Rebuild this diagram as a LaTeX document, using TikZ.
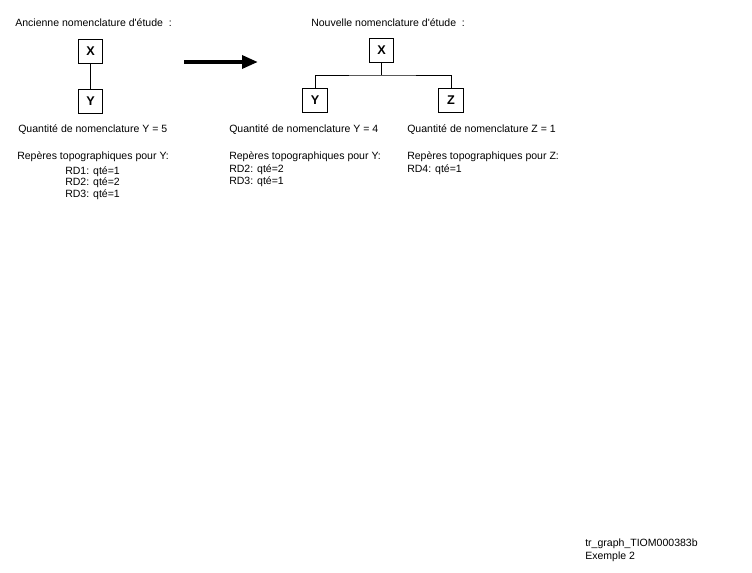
\documentclass[tikz,border=0pt]{standalone}
\usepackage{fontspec}
\setmainfont{Liberation Sans}
\usetikzlibrary{arrows.meta,positioning}

\begin{document}
\begin{tikzpicture}[
  x=0.75pt, y=-0.75pt,
  font=\fontsize{7.9}{9.5}\selectfont,
  box/.style={draw, line width=0.75pt, minimum width=18.5pt, minimum height=18pt, inner sep=0pt, font=\fontsize{9.5}{11}\selectfont\bfseries},
  lbl/.style={anchor=base west, inner sep=0pt},
  link/.style={line width=0.75pt},
  bigarr/.style={-{Triangle[length=12pt, width=9.5pt]}, line width=3pt},
]
\useasboundingbox (0,0) rectangle (752,572);

% Ancienne nomenclature (left)
\node[lbl] (oldtitle) at (15,26.5) {Ancienne nomenclature d\textquotesingle étude~~:};
\node[box] (ox) at (90.5,51) {X};
\node[box] (oy) at (90.5,101) {Y};
\draw[link] (ox) -- (oy);
\node[lbl] (oqty) at (18,132) {Quantité de nomenclature Y = 5};
\node[lbl] (orep) at (17,159) {Repères topographiques pour Y:};
\node[lbl] (ord1) at (65,174) {RD1: qté=1};
\node[lbl] (ord2) at (65,185.5) {RD2: qté=2};
\node[lbl] (ord3) at (65,197) {RD3: qté=1};

% Arrow
\coordinate (a1) at (184,62);
\coordinate (a2) at (258,62);
\draw[bigarr] (a1) -- (a2);

% Nouvelle nomenclature (right)
\node[lbl] (newtitle) at (311,26.5) {Nouvelle nomenclature d\textquotesingle étude~~:};
\node[box] (nx) at (381.5,50) {X};
\node[box] (ny) at (315,100) {Y};
\node[box] (nz) at (451,100) {Z};
\coordinate (split) at (381.5,75);
\draw[link] (nx) -- (split);
\draw[link] (ny) |- (split) -| (nz);
\node[lbl] (nqtyy) at (229,132) {Quantité de nomenclature Y = 4};
\node[lbl] (nqtyz) at (407,132) {Quantité de nomenclature Z = 1};
\node[lbl] (nrepy) at (229,159) {Repères topographiques pour Y:};
\node[lbl] (nrd2) at (229,172.5) {RD2: qté=2};
\node[lbl] (nrd3) at (229,184) {RD3: qté=1};
\node[lbl] (nrepz) at (407,159) {Repères topographiques pour Z:};
\node[lbl] (nrd4) at (407,172.5) {RD4: qté=1};

% Reference
\node[lbl] (ref) at (585,546) {tr\_graph\_TIOM000383b};
\node[lbl] (ex) at (585,559) {Exemple 2};
\end{tikzpicture}
\end{document}
